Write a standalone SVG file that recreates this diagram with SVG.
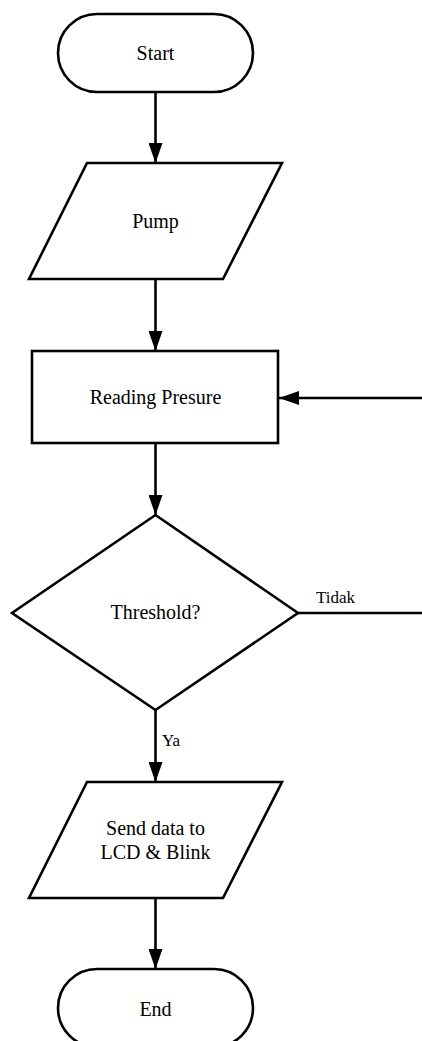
<svg xmlns="http://www.w3.org/2000/svg" width="422" height="1041" viewBox="0 0 422 1041">
<style>
.s{fill:#fff;stroke:#000;stroke-width:2.6;stroke-linejoin:miter}
.t{font-family:"Liberation Serif","Times New Roman",serif;font-size:20px;fill:#000;text-anchor:middle}
.l{font-family:"Liberation Serif","Times New Roman",serif;font-size:17px;fill:#000}
.c{fill:none;stroke:#000;stroke-width:2.6}
</style>
<defs>
<marker id="ah" markerUnits="userSpaceOnUse" markerWidth="20" markerHeight="14" refX="20" refY="7" orient="auto">
<path d="M0,0 L20,7 L0,14 Z" fill="#000"/>
</marker>
</defs>
<rect width="422" height="1041" fill="#fff"/>
<g id="connectors">
<line class="c" x1="155.5" y1="92" x2="155.5" y2="163" marker-end="url(#ah)"/>
<line class="c" x1="155.5" y1="279" x2="155.5" y2="351" marker-end="url(#ah)"/>
<line class="c" x1="155.5" y1="443" x2="155.5" y2="515" marker-end="url(#ah)"/>
<line class="c" x1="298" y1="613" x2="422" y2="613"/>
<line class="c" x1="422" y1="398" x2="279" y2="398" marker-end="url(#ah)"/>
<line class="c" x1="155.5" y1="710" x2="155.5" y2="782" marker-end="url(#ah)"/>
<line class="c" x1="155.5" y1="898" x2="155.5" y2="969" marker-end="url(#ah)"/>
<text class="l" x="316" y="603">Tidak</text>
<text class="l" x="162" y="746">Ya</text>
</g>
<g id="start">
<rect class="s" x="58" y="14" width="195" height="78" rx="39" ry="39"/>
<text class="t" x="155.5" y="60">Start</text>
</g>
<g id="pump">
<polygon class="s" points="87,163 282,163 223,279 29,279"/>
<text class="t" x="155.5" y="228">Pump</text>
</g>
<g id="reading">
<rect class="s" x="32" y="351" width="246" height="92"/>
<text class="t" x="155.5" y="404">Reading Presure</text>
</g>
<g id="threshold">
<polygon class="s" points="155.5,515 298,613 155.5,710 12,613"/>
<text class="t" x="155.5" y="619">Threshold?</text>
</g>
<g id="send">
<polygon class="s" points="87,782 282,782 223,898 29,898"/>
<text class="t" x="155.5" y="835">Send data to</text>
<text class="t" x="155.5" y="859">LCD &amp; Blink</text>
</g>
<g id="end">
<rect class="s" x="58" y="969" width="195" height="78" rx="39" ry="39"/>
<text class="t" x="155.5" y="1016">End</text>
</g>
</svg>
